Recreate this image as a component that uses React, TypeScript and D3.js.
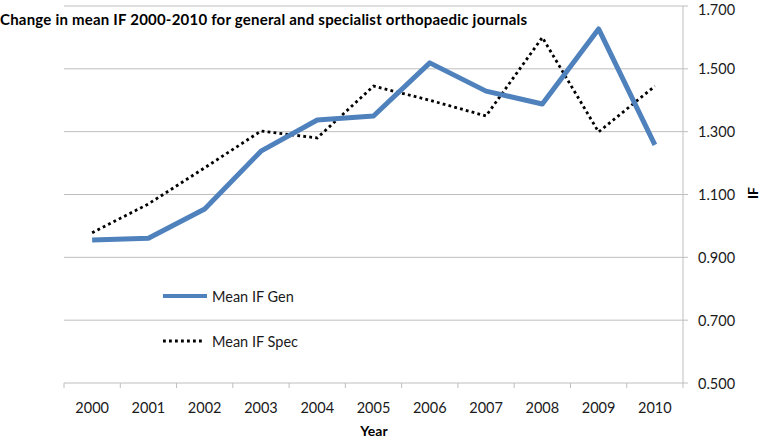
import React from "react";
import * as d3 from "d3";

const years = ["2000","2001","2002","2003","2004","2005","2006","2007","2008","2009","2010"];
const meanGen = [0.955, 0.961, 1.054, 1.238, 1.337, 1.350, 1.519, 1.429, 1.388, 1.627, 1.258];
const meanSpec = [0.978, 1.07, 1.185, 1.302, 1.280, 1.445, 1.400, 1.350, 1.600, 1.299, 1.445];
const yTicks = [0.5, 0.7, 0.9, 1.1, 1.3, 1.5, 1.7];
const seriesNames = ["Mean IF Gen", "Mean IF Spec"];
const title = "Change in mean IF 2000-2010 for general and specialist orthopaedic journals";

const W = 761, H = 438;
const left = 64, right = 683, top = 6, bottom = 383;
const FONT = "Lato, 'Open Sans', sans-serif";
const GRID = "#BEBEBE";
const BLUE = "#4F81BD";

export default function App() {
  const x = d3.scaleBand<string>().domain(years).range([left, right]).padding(0);
  const y = d3.scaleLinear().domain([0.5, 1.7]).range([bottom, top]);
  const cx = (d: string) => (x(d) as number) + x.bandwidth() / 2;
  const line = d3.line<number>().x((_, i) => cx(years[i])).y((v) => y(v));
  const fmt = d3.format(".3f");

  return (
    <svg width={W} height={H} style={{ position: "absolute", left: 0, top: 0, background: "#fff" }} fontFamily={FONT}>
      {/* gridlines */}
      {yTicks.map((t) => (
        <g key={t}>
          <line x1={left} x2={right + 5} y1={y(t)} y2={y(t)} stroke={GRID} strokeWidth={1} />
          <text x={698} y={Math.max(y(t), 9)} dominantBaseline="central" fontSize={14.5} fill="#1a1a1a">{fmt(t)}</text>
        </g>
      ))}
      {/* right axis */}
      <line x1={right} x2={right} y1={top} y2={bottom} stroke={GRID} strokeWidth={1} />
      {/* bottom ticks */}
      {years.map((yr) => (
        <line key={"t" + yr} x1={x(yr) as number} x2={x(yr) as number} y1={bottom} y2={bottom + 5} stroke={GRID} strokeWidth={1} />
      ))}
      <line x1={right} x2={right} y1={bottom} y2={bottom + 5} stroke={GRID} strokeWidth={1} />
      {years.map((yr) => (
        <text key={yr} x={cx(yr)} y={413} textAnchor="middle" fontSize={14.5} fill="#1a1a1a">{yr}</text>
      ))}
      {/* series */}
      <path d={line(meanSpec) || ""} fill="none" stroke="#000" strokeWidth={2.8} strokeDasharray="2.8 3.2" />
      <path d={line(meanGen) || ""} fill="none" stroke={BLUE} strokeWidth={5} strokeLinejoin="round" />
      {/* legend */}
      <line x1={163} x2={207} y1={296} y2={296} stroke={BLUE} strokeWidth={4} />
      <text x={212} y={296} dominantBaseline="central" fontSize={14.5} fill="#1a1a1a">{seriesNames[0]}</text>
      <line x1={163} x2={205} y1={341} y2={341} stroke="#000" strokeWidth={2.8} strokeDasharray="2.8 3.2" />
      <text x={212} y={341} dominantBaseline="central" fontSize={14.5} fill="#1a1a1a">{seriesNames[1]}</text>
      {/* title */}
      <text x={0} y={25} fontSize={15} fontWeight="bold" fill="#000" textLength={527} lengthAdjust="spacing">{title}</text>
      {/* axis titles */}
      <text x={374} y={430} textAnchor="middle" dominantBaseline="central" fontSize={14} fontWeight="bold" fill="#000">Year</text>
      <text transform={`translate(752,193) rotate(-90)`} textAnchor="middle" dominantBaseline="central" fontSize={14} fontWeight="bold" fill="#000">IF</text>
    </svg>
  );
}
